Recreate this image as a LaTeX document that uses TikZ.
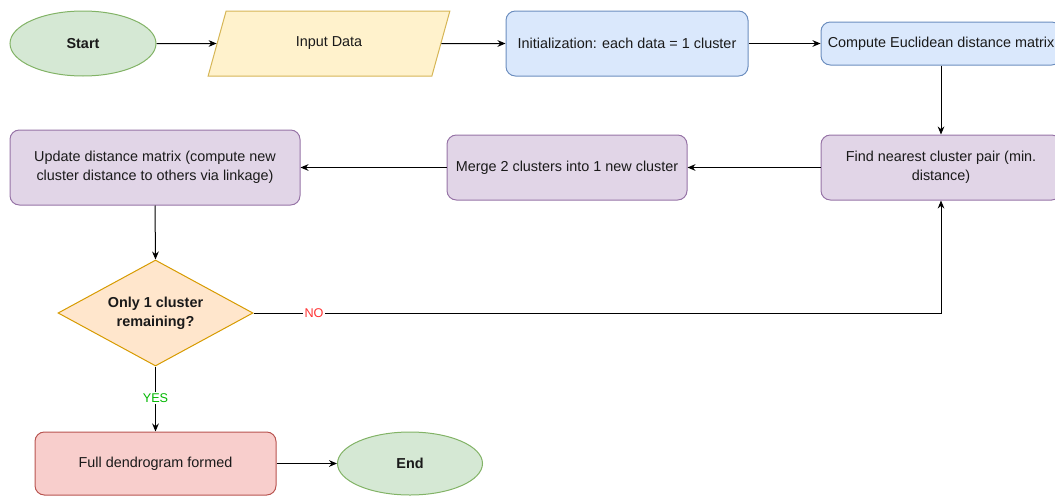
\documentclass[tikz,border=0pt]{standalone}
\usepackage{fontspec}
\setmainfont{Liberation Sans}
\usetikzlibrary{shapes.geometric,arrows.meta}
\definecolor{gfill}{HTML}{D5E8D4}\definecolor{gline}{HTML}{82B366}
\definecolor{yfill}{HTML}{FFF2CC}\definecolor{yline}{HTML}{D6B656}
\definecolor{bfill}{HTML}{DAE8FC}\definecolor{bline}{HTML}{6C8EBF}
\definecolor{pfill}{HTML}{E1D5E7}\definecolor{pline}{HTML}{9673A6}
\definecolor{ofill}{HTML}{FFE6CC}\definecolor{oline}{HTML}{D79B00}
\definecolor{rfill}{HTML}{F8CECC}\definecolor{rline}{HTML}{B85450}
\definecolor{nocol}{HTML}{FF3333}\definecolor{yescol}{HTML}{00B800}
\definecolor{txt}{HTML}{1A1A1A}
\tikzset{
  base/.style={line width=0.75pt, text=txt, font=\fontsize{10.8}{14}\selectfont, align=center, inner sep=2pt},
  term/.style={base, ellipse, draw=gline, fill=gfill, font=\fontsize{10.8}{14}\selectfont\bfseries},
  iobox/.style={base, trapezium, trapezium left angle=71, trapezium right angle=109, trapezium stretches=true, draw=yline, fill=yfill},
  bluebox/.style={base, rectangle, rounded corners=7pt, draw=bline, fill=bfill},
  purplebox/.style={base, rectangle, rounded corners=7pt, draw=pline, fill=pfill},
  decision/.style={base, diamond, draw=oline, fill=ofill, inner sep=0pt},
  dectext/.style={text=txt, align=center, font=\fontsize{10.8}{14}\selectfont\bfseries},
  redbox/.style={base, rectangle, rounded corners=7pt, draw=rline, fill=rfill},
  conn/.style={line width=0.75pt, -{Stealth[length=6pt,width=5pt]}},
  edgelabel/.style={fill=white, inner sep=1pt, font=\fontsize{9.5}{11}\selectfont}
}
\begin{document}
\begin{tikzpicture}[x=0.75pt,y=-0.75pt]
\useasboundingbox (0,0) rectangle (1055,496);
\node[term, minimum width=109.5pt, minimum height=48.75pt] (start) at (83,43.5) {Start};
\node[iobox, minimum width=181.5pt, minimum height=48.75pt] (input) at (329,43.5) {Input Data};
\node[bluebox, minimum width=181.5pt, minimum height=48.75pt] (init) at (627,43.5) {Initialization: each data = 1 cluster};
\node[bluebox, minimum width=180pt, minimum height=32.25pt] (compute) at (941,43.5) {Compute Euclidean distance matrix};
\node[purplebox, minimum width=180pt, minimum height=48.75pt] (find) at (941,167.5) {Find nearest cluster pair (min.\\distance)};
\node[purplebox, minimum width=180pt, minimum height=48.75pt] (merge) at (567,167.5) {Merge 2 clusters into 1 new cluster};
\node[purplebox, minimum width=217.5pt, minimum height=56.25pt] (update) at (155,167.5) {Update distance matrix (compute new\\cluster distance to others via linkage)};
\node[decision, minimum width=146.25pt, minimum height=79.5pt, label={[dectext]center:Only 1 cluster\\remaining?}] (dec) at (155.5,313) {};
\node[redbox, minimum width=180.75pt, minimum height=47.25pt] (full) at (155.5,463.5) {Full dendrogram formed};
\node[term, minimum width=108.75pt, minimum height=47.25pt] (end) at (410,463.5) {End};

\draw[conn] (start.east) -- (input.west);
\draw[conn] (input.east) -- (init.west);
\draw[conn] (init.east) -- (compute.west);
\draw[conn] (compute.south) -- (find.north);
\draw[conn] (find.west) -- (merge.east);
\draw[conn] (merge.west) -- (update.east);
\draw[conn] (update.south) -- (dec.north);
\draw[conn] (dec.east) -| node[pos=0.044, edgelabel, text=nocol] {NO} (find.south);
\draw[conn] (dec.south) -- node[pos=0.48, edgelabel, text=yescol] {YES} (full.north);
\draw[conn] (full.east) -- (end.west);
\end{tikzpicture}
\end{document}
